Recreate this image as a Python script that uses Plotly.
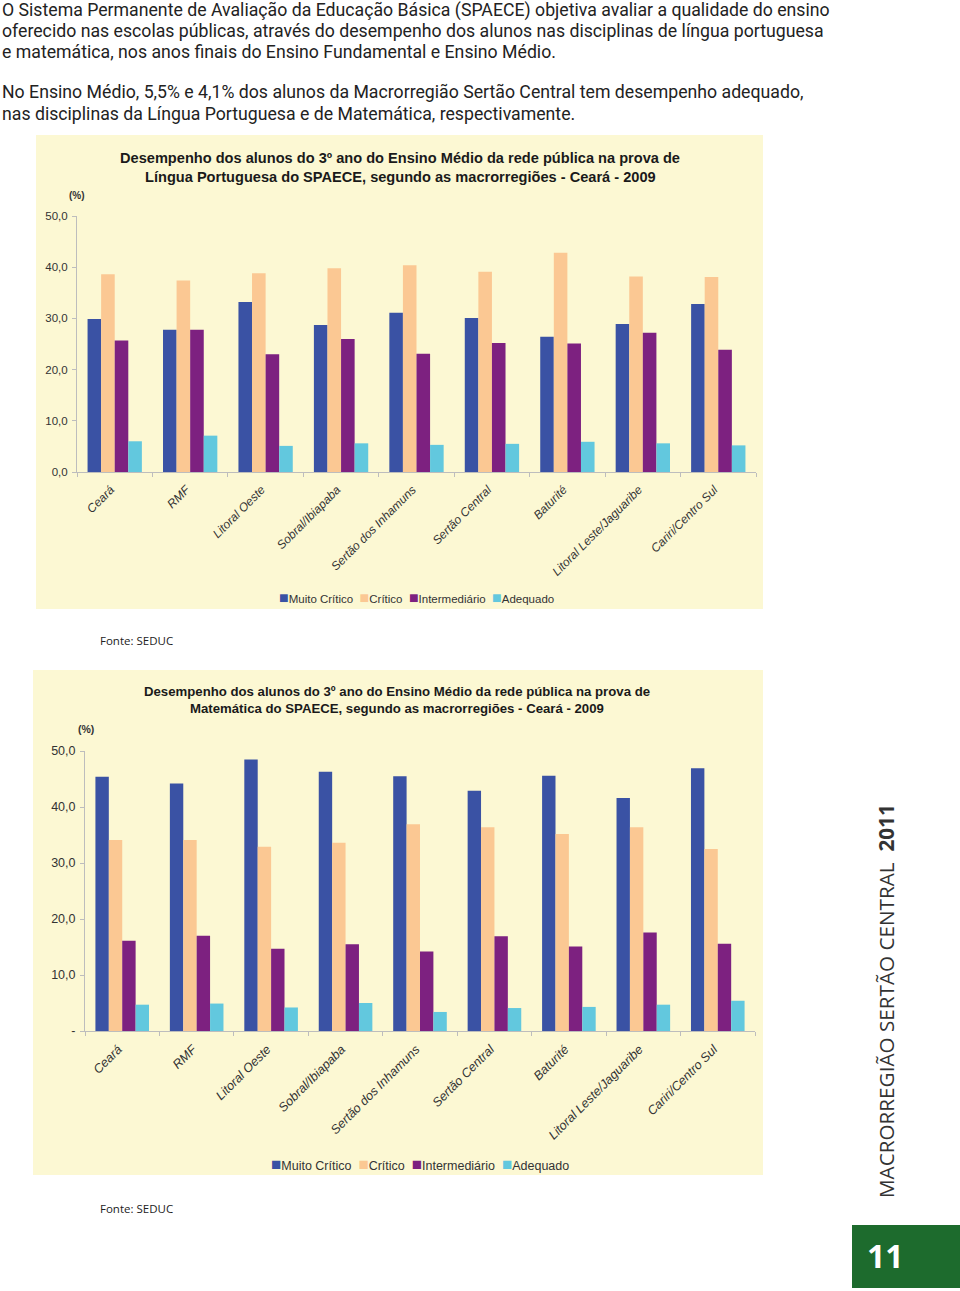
import plotly.graph_objects as go

W, H = 960, 1291

regions = ["Ceará", "RMF", "Litoral Oeste", "Sobral/Ibiapaba", "Sertão dos Inhamuns",
           "Sertão Central", "Baturité", "Litoral Leste/Jaguaribe", "Cariri/Centro Sul"]
levels = ["Muito Crítico", "Crítico", "Intermediário", "Adequado"]
colors = ["#3A52A4", "#FBC893", "#7D2180", "#62C8DE"]

# Língua Portuguesa (%)
lp_muito_critico = [29.9, 27.8, 33.2, 28.7, 31.1, 30.1, 26.4, 28.9, 32.8]
lp_critico       = [38.6, 37.4, 38.8, 39.8, 40.4, 39.1, 42.8, 38.2, 38.1]
lp_intermediario = [25.7, 27.8, 23.0, 26.0, 23.1, 25.2, 25.1, 27.2, 23.9]
lp_adequado      = [6.0, 7.1, 5.1, 5.6, 5.3, 5.5, 5.9, 5.6, 5.2]

# Matemática (%)
mt_muito_critico = [45.4, 44.2, 48.5, 46.3, 45.5, 42.9, 45.6, 41.6, 46.9]
mt_critico       = [34.1, 34.1, 32.9, 33.6, 36.9, 36.4, 35.2, 36.4, 32.5]
mt_intermediario = [16.1, 17.0, 14.7, 15.5, 14.2, 16.9, 15.1, 17.6, 15.6]
mt_adequado      = [4.7, 4.9, 4.2, 5.0, 3.4, 4.1, 4.3, 4.7, 5.4]

yticks = [0, 10, 20, 30, 40, 50]
yticks_lp = ["0,0", "10,0", "20,0", "30,0", "40,0", "50,0"]
yticks_mt = ["-", "10,0", "20,0", "30,0", "40,0", "50,0"]


def px(x):
    return x / W


def py(y):
    return 1 - y / H


fig = go.Figure()
lp = [lp_muito_critico, lp_critico, lp_intermediario, lp_adequado]
mt = [mt_muito_critico, mt_critico, mt_intermediario, mt_adequado]
for name, col, vals in zip(levels, colors, lp):
    fig.add_trace(go.Bar(x=regions, y=vals, name=name, marker_color=col, marker_line_width=0,
                         xaxis="x", yaxis="y", showlegend=False))
for name, col, vals in zip(levels, colors, mt):
    fig.add_trace(go.Bar(x=regions, y=vals, name=name, marker_color=col, marker_line_width=0,
                         xaxis="x2", yaxis="y2", showlegend=False))

axis_common = dict(showgrid=False, zeroline=False, showline=True, linecolor="#BDBDBD",
                   linewidth=1, ticks="outside", tickcolor="#BDBDBD", ticklen=4,
                   automargin=False)

fig.update_layout(
    width=W, height=H, margin=dict(l=0, r=0, t=0, b=0, autoexpand=False),
    paper_bgcolor="white", plot_bgcolor="rgba(0,0,0,0)",
    barmode="group", bargap=0.28, bargroupgap=0,
    font=dict(family="Liberation Sans, Arial", color="#333333"),
    xaxis=dict(domain=[px(77), px(756)], anchor="y", type="category", tickson="boundaries",
               tickangle=-45, tickfont=dict(size=12, style="italic", color="#333"),
               ticklabelstandoff=5, ticklabelshift=-4, **axis_common),
    yaxis=dict(domain=[py(472), py(216)], anchor="x", range=[0, 50], tickvals=yticks,
               ticktext=yticks_lp, tickfont=dict(size=11.5, color="#333"),
               ticklabelstandoff=2, **axis_common),
    xaxis2=dict(domain=[px(85), px(755)], anchor="y2", type="category", tickson="boundaries",
                tickangle=-45, tickfont=dict(size=12.6, style="italic", color="#333"),
                ticklabelstandoff=5, ticklabelshift=-4, **axis_common),
    yaxis2=dict(domain=[py(1031), py(751)], anchor="x2", range=[0, 50], tickvals=yticks,
                ticktext=yticks_mt, tickfont=dict(size=12.5, color="#333"),
                ticklabelstandoff=2, **axis_common),
    showlegend=False,
)

shapes = [
    dict(type="rect", xref="paper", yref="paper", x0=px(36), x1=px(763), y0=py(609), y1=py(135),
         fillcolor="#FCF8D3", line_width=0, layer="below"),
    dict(type="rect", xref="paper", yref="paper", x0=px(33), x1=px(763), y0=py(1175), y1=py(670),
         fillcolor="#FCF8D3", line_width=0, layer="below"),
    dict(type="rect", xref="paper", yref="paper", x0=px(852), x1=px(960), y0=py(1288), y1=py(1225),
         fillcolor="#1D6B2D", line_width=0, layer="below"),
]
fig.update_layout(shapes=shapes)

body_font = dict(family="Roboto, Open Sans", size=17.7, color="#222222")
body_lines = [
    (11, "O Sistema Permanente de Avaliação da Educação Básica (SPAECE) objetiva avaliar a qualidade do ensino"),
    (31, "oferecido nas escolas públicas, através do desempenho dos alunos nas disciplinas de língua portuguesa"),
    (52, "e matemática, nos anos finais do Ensino Fundamental e Ensino Médio."),
    (92, "No Ensino Médio, 5,5% e 4,1% dos alunos da Macrorregião Sertão Central tem desempenho adequado,"),
    (114, "nas disciplinas da Língua Portuguesa e de Matemática, respectivamente."),
]
ann = []
for yy, txt in body_lines:
    ann.append(dict(text=txt, x=0, xanchor="left", y=py(yy), yanchor="middle", font=body_font))


def legend_text(names, cols, sq):
    parts = []
    for n, c in zip(names, cols):
        parts.append(f'<span style="color:{c};font-size:{sq}px">■</span>{n}')
    return "\u00a0\u00a0".join(parts)


title_font1 = dict(family="Liberation Sans, Arial", size=14.6, color="#1a1a1a", weight="bold")
title_font2 = dict(family="Liberation Sans, Arial", size=13.2, color="#1a1a1a", weight="bold")
ann += [
    dict(text="Desempenho dos alunos do 3º ano do Ensino Médio da rede pública na prova de",
         x=px(400), y=py(158), font=title_font1),
    dict(text="Língua Portuguesa do SPAECE, segundo as macrorregiões - Ceará - 2009",
         x=px(400), y=py(177), font=title_font1),
    dict(text="Desempenho dos alunos do 3º ano do Ensino Médio da rede pública na prova de",
         x=px(397), y=py(692), font=title_font2),
    dict(text="Matemática do SPAECE, segundo as macrorregiões - Ceará - 2009",
         x=px(397), y=py(709), font=title_font2),
    dict(text="(%)", x=px(77), y=py(195), font=dict(size=10, color="#333", weight="bold")),
    dict(text="(%)", x=px(86), y=py(729), font=dict(size=10.5, color="#333", weight="bold")),
    dict(text=legend_text(levels, colors, 16), x=px(416), y=py(598),
         font=dict(size=11.5, color="#333")),
    dict(text=legend_text(levels, colors, 17), x=px(420), y=py(1164),
         font=dict(size=12.5, color="#333")),
    dict(text="Fonte: SEDUC", x=px(98), xanchor="left", y=py(640),
         font=dict(family="Open Sans", size=11.5, color="#222")),
    dict(text="Fonte: SEDUC", x=px(98), xanchor="left", y=py(1208),
         font=dict(family="Open Sans", size=11.5, color="#222")),
    dict(text="MACRORREGIÃO SERTÃO CENTRAL  <b>2011</b>", x=px(886), y=py(1001), textangle=-90,
         font=dict(family="Open Sans", size=20.7, color="#333")),
    dict(text="<b>11</b>", x=px(885), y=py(1255),
         font=dict(family="Open Sans", size=32, color="white")),
]
for a in ann:
    a.setdefault("xref", "paper")
    a.setdefault("yref", "paper")
    a.setdefault("showarrow", False)
    a.setdefault("xanchor", "center")
    a.setdefault("yanchor", "middle")
fig.update_layout(annotations=ann)

fig.write_html("out.html", config={"displayModeBar": False},
               post_script="document.body.style.margin='0';")
